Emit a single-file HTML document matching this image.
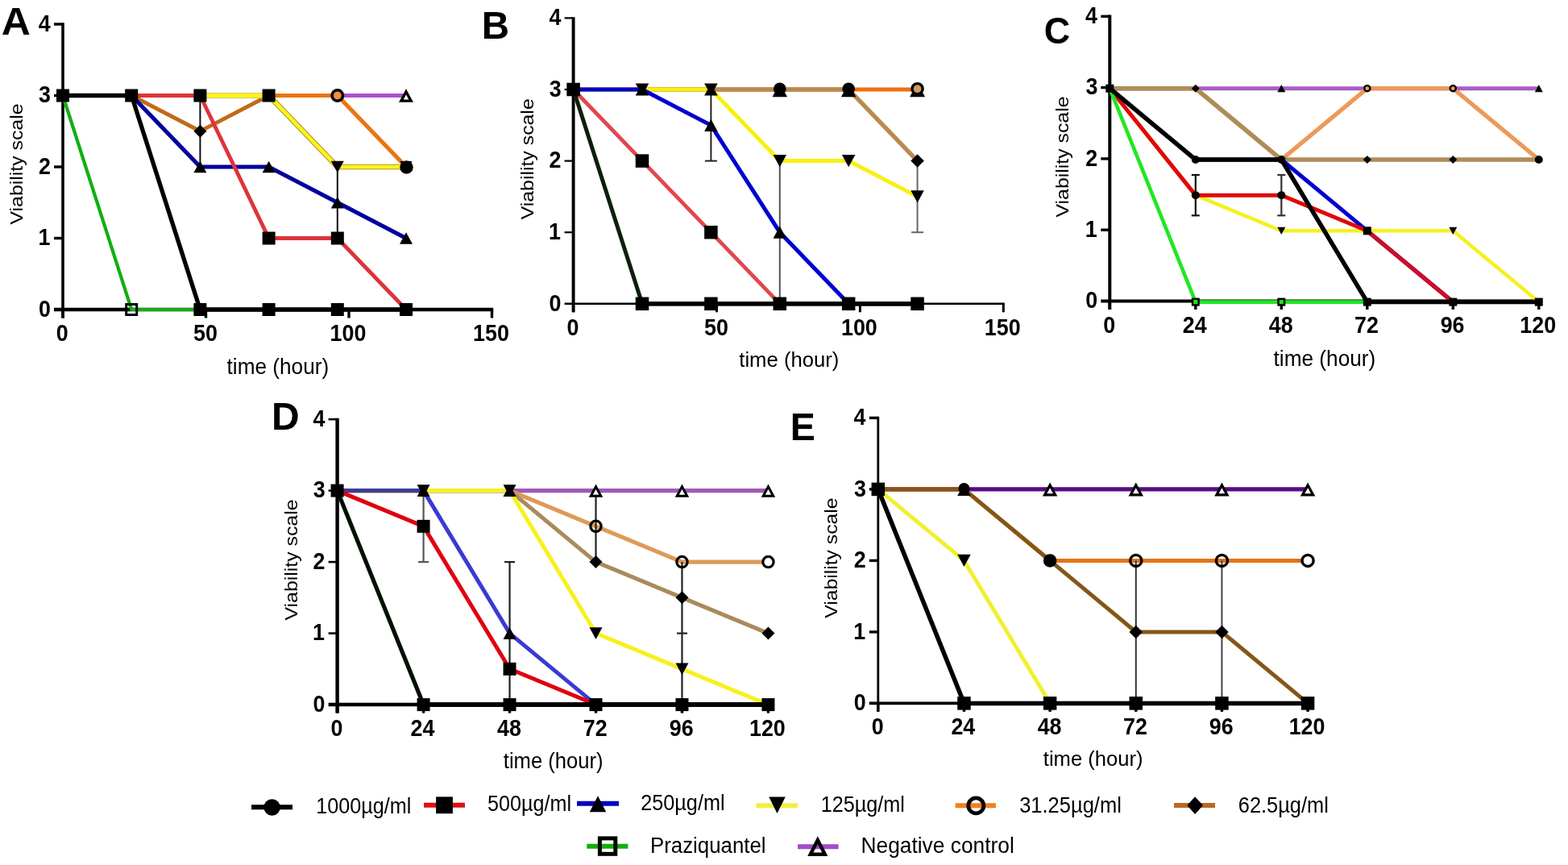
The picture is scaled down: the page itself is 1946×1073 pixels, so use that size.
<!DOCTYPE html>
<html><head><meta charset="utf-8"><title>Viability scale figure</title>
<style>
html,body{margin:0;padding:0;background:#fff;}
svg{display:block;filter:blur(0.5px);}
text{font-family:"Liberation Sans", Arial, sans-serif;fill:#000;}
</style></head>
<body>
<svg width="1946" height="1073" viewBox="0 0 1946 1073">
<rect width="1946" height="1073" fill="#fff"/>
<line x1="78.00" y1="28.30" x2="78.00" y2="394.50" stroke="#000" stroke-width="3.6"/><line x1="67.00" y1="295.50" x2="78.00" y2="295.50" stroke="#000" stroke-width="3.4"/><line x1="67.00" y1="207.00" x2="78.00" y2="207.00" stroke="#000" stroke-width="3.4"/><line x1="67.00" y1="118.50" x2="78.00" y2="118.50" stroke="#000" stroke-width="3.4"/><line x1="67.00" y1="30.00" x2="78.00" y2="30.00" stroke="#000" stroke-width="3.4"/><line x1="67.00" y1="384.00" x2="612.20" y2="384.00" stroke="#000" stroke-width="4.6"/><line x1="78.00" y1="384.00" x2="78.00" y2="394.50" stroke="#000" stroke-width="3.4"/><line x1="255.50" y1="384.00" x2="255.50" y2="394.50" stroke="#000" stroke-width="3.4"/><line x1="433.00" y1="384.00" x2="433.00" y2="394.50" stroke="#000" stroke-width="3.4"/><line x1="610.50" y1="384.00" x2="610.50" y2="394.50" stroke="#000" stroke-width="3.4"/><polyline points="78.00,118.50 163.20,118.50 248.40,118.50 333.60,118.50 418.80,118.50 504.00,118.50" fill="none" stroke="#A850D0" stroke-width="4.8" stroke-linejoin="miter" stroke-linecap="butt"/><polyline points="78.00,118.50 163.20,118.50 248.40,118.50 333.60,118.50 418.80,118.50 504.00,207.00" fill="none" stroke="#E87612" stroke-width="5.2" stroke-linejoin="miter" stroke-linecap="butt"/><polyline points="78.00,118.50 163.20,118.50 248.40,162.75 333.60,118.50" fill="none" stroke="#C06A18" stroke-width="4.8" stroke-linejoin="miter" stroke-linecap="butt"/><polyline points="333.60,118.50 418.80,207.00 504.00,207.00" fill="none" stroke="#9A7A20" stroke-width="6.6" stroke-linejoin="miter" stroke-linecap="butt"/><line x1="248.40" y1="118.50" x2="333.60" y2="118.50" stroke="#D8C860" stroke-width="7"/><polyline points="78.00,118.50 163.20,118.50 248.40,118.50 333.60,118.50 418.80,207.00 504.00,207.00" fill="none" stroke="#FAF41C" stroke-width="4.8" stroke-linejoin="miter" stroke-linecap="butt"/><polyline points="78.00,118.50 163.20,118.50 248.40,207.00 333.60,207.00 418.80,251.25 504.00,295.50" fill="none" stroke="#00009C" stroke-width="5.2" stroke-linejoin="miter" stroke-linecap="butt"/><polyline points="78.00,118.50 163.20,118.50 248.40,118.50 333.60,295.50 418.80,295.50 504.00,384.00" fill="none" stroke="#DC343C" stroke-width="4.8" stroke-linejoin="miter" stroke-linecap="butt"/><polyline points="78.00,118.50 163.20,384.00 248.40,384.00 333.60,384.00 418.80,384.00 504.00,384.00" fill="none" stroke="#10B010" stroke-width="4.2" stroke-linejoin="miter" stroke-linecap="butt"/><polyline points="78.00,118.50 163.20,118.50 248.40,384.00 333.60,384.00 418.80,384.00 504.00,384.00" fill="none" stroke="#000" stroke-width="5.3" stroke-linejoin="miter" stroke-linecap="butt"/><line x1="248.40" y1="118.50" x2="248.40" y2="207.00" stroke="#111" stroke-width="2"/><line x1="418.80" y1="207.00" x2="418.80" y2="295.50" stroke="#111" stroke-width="2"/><rect x="70.00" y="110.50" width="16.00" height="16.00" fill="#000"/><rect x="155.20" y="110.50" width="16.00" height="16.00" fill="#000"/><rect x="240.40" y="110.50" width="16.00" height="16.00" fill="#000"/><rect x="325.60" y="110.50" width="16.00" height="16.00" fill="#000"/><polygon points="248.40,154.75 256.40,162.75 248.40,170.75 240.40,162.75" fill="#000"/><polygon points="248.40,199.64 256.40,214.36 240.40,214.36" fill="#000"/><polygon points="333.60,199.64 341.60,214.36 325.60,214.36" fill="#000"/><polygon points="418.80,214.36 426.80,199.64 410.80,199.64" fill="#000"/><polygon points="418.80,243.89 426.80,258.61 410.80,258.61" fill="#000"/><polygon points="504.00,288.14 512.00,302.86 496.00,302.86" fill="#000"/><rect x="325.60" y="287.50" width="16.00" height="16.00" fill="#000"/><rect x="410.80" y="287.50" width="16.00" height="16.00" fill="#000"/><rect x="240.40" y="376.00" width="16.00" height="16.00" fill="#000"/><rect x="325.60" y="376.00" width="16.00" height="16.00" fill="#000"/><rect x="410.80" y="376.00" width="16.00" height="16.00" fill="#000"/><rect x="496.00" y="376.00" width="16.00" height="16.00" fill="#000"/><polygon points="504.00,213.90 511.50,200.10 496.50,200.10" fill="#000"/><circle cx="504.50" cy="207.50" r="8.25" fill="#000"/><circle cx="418.80" cy="118.50" r="6.70" fill="#F09040" stroke="#000" stroke-width="3.60"/><polygon points="504.00,117.34 507.28,123.38 500.72,123.38" fill="#fff"/><path d="M504.00,110.22 513.00,126.78 495.00,126.78Z M504.00,117.34 507.28,123.38 500.72,123.38Z" fill="#000" fill-rule="evenodd"/><rect x="156.70" y="377.50" width="13.00" height="13.00" fill="none" stroke="#000" stroke-width="3.00"/><text transform="translate(47.93,392.73) scale(0.9100,1)" font-size="29.5" font-weight="bold">0</text><text transform="translate(47.44,304.23) scale(0.9100,1)" font-size="29.5" font-weight="bold">1</text><text transform="translate(48.02,215.88) scale(0.9100,1)" font-size="29.5" font-weight="bold">2</text><text transform="translate(48.11,127.23) scale(0.9100,1)" font-size="29.5" font-weight="bold">3</text><text transform="translate(47.79,38.73) scale(0.9100,1)" font-size="29.5" font-weight="bold">4</text><text transform="translate(69.83,423.00) scale(0.9100,1)" font-size="29.5" font-weight="bold">0</text><text transform="translate(239.99,423.00) scale(0.9100,1)" font-size="29.5" font-weight="bold">50</text><text transform="translate(409.57,423.00) scale(0.9100,1)" font-size="29.5" font-weight="bold">100</text><text transform="translate(587.07,423.00) scale(0.9100,1)" font-size="29.5" font-weight="bold">150</text><line x1="711.60" y1="21.30" x2="711.60" y2="387.30" stroke="#000" stroke-width="3.9"/><line x1="700.60" y1="288.20" x2="711.60" y2="288.20" stroke="#000" stroke-width="2.2"/><line x1="700.60" y1="199.60" x2="711.60" y2="199.60" stroke="#000" stroke-width="2.2"/><line x1="700.60" y1="111.00" x2="711.60" y2="111.00" stroke="#000" stroke-width="2.2"/><line x1="700.60" y1="22.40" x2="711.60" y2="22.40" stroke="#000" stroke-width="2.2"/><line x1="700.60" y1="376.80" x2="1246.80" y2="376.80" stroke="#000" stroke-width="2.4"/><line x1="711.60" y1="376.80" x2="711.60" y2="387.30" stroke="#000" stroke-width="3"/><line x1="889.50" y1="376.80" x2="889.50" y2="387.30" stroke="#000" stroke-width="3"/><line x1="1067.40" y1="376.80" x2="1067.40" y2="387.30" stroke="#000" stroke-width="3"/><line x1="1245.30" y1="376.80" x2="1245.30" y2="387.30" stroke="#000" stroke-width="3"/><polyline points="711.60,111.00 796.99,111.00 882.38,111.00 967.78,111.00 1053.17,111.00 1138.56,111.00" fill="none" stroke="#F07010" stroke-width="4.8" stroke-linejoin="miter" stroke-linecap="butt"/><polyline points="711.60,111.00 796.99,111.00 882.38,111.00 967.78,111.00 1053.17,111.00 1138.56,199.60" fill="none" stroke="#BA8A50" stroke-width="5.4" stroke-linejoin="miter" stroke-linecap="butt"/><polyline points="711.60,111.00 796.99,111.00 882.38,111.00 967.78,199.60 1053.17,199.60 1138.56,243.90" fill="none" stroke="#F8F010" stroke-width="5" stroke-linejoin="miter" stroke-linecap="butt"/><polyline points="711.60,111.00 796.99,111.00 882.38,155.30 967.78,288.20 1053.17,376.80 1138.56,376.80" fill="none" stroke="#0000D0" stroke-width="5" stroke-linejoin="miter" stroke-linecap="butt"/><polyline points="711.60,111.00 796.99,199.60 882.38,288.20 967.78,376.80 1053.17,376.80 1138.56,376.80" fill="none" stroke="#E04850" stroke-width="4.8" stroke-linejoin="miter" stroke-linecap="butt"/><polyline points="711.60,111.00 796.99,376.80 882.38,376.80 967.78,376.80 1053.17,376.80 1138.56,376.80" fill="none" stroke="#0A200A" stroke-width="5" stroke-linejoin="miter" stroke-linecap="butt"/><line x1="796.99" y1="376.80" x2="1138.56" y2="376.80" stroke="#000" stroke-width="5.3"/><line x1="882.38" y1="111.00" x2="882.38" y2="199.60" stroke="#222" stroke-width="2"/><line x1="874.88" y1="199.60" x2="889.88" y2="199.60" stroke="#222" stroke-width="2"/><line x1="967.78" y1="199.60" x2="967.78" y2="376.80" stroke="#555" stroke-width="2"/><line x1="1138.56" y1="199.60" x2="1138.56" y2="288.20" stroke="#666" stroke-width="2"/><line x1="1131.06" y1="288.20" x2="1146.06" y2="288.20" stroke="#666" stroke-width="2"/><rect x="703.35" y="102.75" width="16.50" height="16.50" fill="#000"/><polygon points="796.99,103.41 805.24,118.59 788.74,118.59" fill="#000"/><polygon points="796.99,118.59 805.24,103.41 788.74,103.41" fill="#000"/><polygon points="882.38,103.41 890.63,118.59 874.13,118.59" fill="#000"/><polygon points="882.38,118.59 890.63,103.41 874.13,103.41" fill="#000"/><rect x="788.74" y="191.35" width="16.50" height="16.50" fill="#000"/><polygon points="882.38,147.71 890.63,162.89 874.13,162.89" fill="#000"/><rect x="874.13" y="279.95" width="16.50" height="16.50" fill="#000"/><polygon points="967.78,207.19 976.03,192.01 959.53,192.01" fill="#000"/><polygon points="967.78,280.61 976.03,295.79 959.53,295.79" fill="#000"/><polygon points="1053.17,207.19 1061.42,192.01 1044.92,192.01" fill="#000"/><polygon points="1138.56,191.35 1146.81,199.60 1138.56,207.85 1130.31,199.60" fill="#000"/><polygon points="1138.56,251.49 1146.81,236.31 1130.31,236.31" fill="#000"/><rect x="788.74" y="368.55" width="16.50" height="16.50" fill="#000"/><rect x="874.13" y="368.55" width="16.50" height="16.50" fill="#000"/><rect x="959.53" y="368.55" width="16.50" height="16.50" fill="#000"/><rect x="1044.92" y="368.55" width="16.50" height="16.50" fill="#000"/><rect x="1130.31" y="368.55" width="16.50" height="16.50" fill="#000"/><circle cx="967.78" cy="110.30" r="7.86" fill="#000"/><polygon points="967.78,103.29 977.03,120.31 958.53,120.31" fill="#000"/><circle cx="1053.17" cy="110.30" r="7.86" fill="#000"/><polygon points="1053.17,103.29 1062.42,120.31 1043.92,120.31" fill="#000"/><polygon points="1138.56,109.56 1142.68,117.14 1134.44,117.14" fill="#fff"/><path d="M1138.56,102.86 1148.06,120.34 1129.06,120.34Z M1138.56,109.56 1142.68,117.14 1134.44,117.14Z" fill="#000" fill-rule="evenodd"/><circle cx="1138.56" cy="110.20" r="6.55" fill="#D49A62" stroke="#000" stroke-width="3.40"/><text transform="translate(681.53,385.53) scale(0.9100,1)" font-size="29.5" font-weight="bold">0</text><text transform="translate(681.04,296.93) scale(0.9100,1)" font-size="29.5" font-weight="bold">1</text><text transform="translate(681.62,208.48) scale(0.9100,1)" font-size="29.5" font-weight="bold">2</text><text transform="translate(681.71,119.73) scale(0.9100,1)" font-size="29.5" font-weight="bold">3</text><text transform="translate(681.39,31.13) scale(0.9100,1)" font-size="29.5" font-weight="bold">4</text><text transform="translate(703.43,415.80) scale(0.9100,1)" font-size="29.5" font-weight="bold">0</text><text transform="translate(873.99,415.80) scale(0.9100,1)" font-size="29.5" font-weight="bold">50</text><text transform="translate(1043.97,415.80) scale(0.9100,1)" font-size="29.5" font-weight="bold">100</text><text transform="translate(1221.87,415.80) scale(0.9100,1)" font-size="29.5" font-weight="bold">150</text><line x1="1377.30" y1="18.60" x2="1377.30" y2="384.00" stroke="#000" stroke-width="4"/><line x1="1366.30" y1="285.20" x2="1377.30" y2="285.20" stroke="#000" stroke-width="3.4"/><line x1="1366.30" y1="196.90" x2="1377.30" y2="196.90" stroke="#000" stroke-width="3.4"/><line x1="1366.30" y1="108.60" x2="1377.30" y2="108.60" stroke="#000" stroke-width="3.4"/><line x1="1366.30" y1="20.30" x2="1377.30" y2="20.30" stroke="#000" stroke-width="3.4"/><line x1="1366.30" y1="373.50" x2="1911.50" y2="373.50" stroke="#000" stroke-width="4"/><line x1="1377.30" y1="373.50" x2="1377.30" y2="384.00" stroke="#000" stroke-width="3.4"/><line x1="1483.80" y1="373.50" x2="1483.80" y2="384.00" stroke="#000" stroke-width="3.4"/><line x1="1590.30" y1="373.50" x2="1590.30" y2="384.00" stroke="#000" stroke-width="3.4"/><line x1="1696.80" y1="373.50" x2="1696.80" y2="384.00" stroke="#000" stroke-width="3.4"/><line x1="1803.30" y1="373.50" x2="1803.30" y2="384.00" stroke="#000" stroke-width="3.4"/><line x1="1909.80" y1="373.50" x2="1909.80" y2="384.00" stroke="#000" stroke-width="3.4"/><polyline points="1377.30,109.70 1483.80,109.70 1590.30,109.70 1696.80,109.70 1803.30,109.70 1909.80,109.70" fill="none" stroke="#A85CC4" stroke-width="5" stroke-linejoin="miter" stroke-linecap="butt"/><polyline points="1377.30,109.70 1483.80,109.70 1590.30,198.00 1696.80,109.70 1803.30,109.70 1909.80,198.00" fill="none" stroke="#EC9A5A" stroke-width="5.3" stroke-linejoin="miter" stroke-linecap="butt"/><polyline points="1377.30,109.70 1483.80,109.70 1590.30,198.00 1696.80,198.00 1803.30,198.00 1909.80,198.00" fill="none" stroke="#AE8C5A" stroke-width="5.5" stroke-linejoin="miter" stroke-linecap="butt"/><polyline points="1377.30,109.70 1483.80,242.15 1590.30,286.30 1696.80,286.30 1803.30,286.30 1909.80,374.60" fill="none" stroke="#F6F020" stroke-width="4.5" stroke-linejoin="miter" stroke-linecap="butt"/><polyline points="1377.30,109.70 1483.80,198.00 1590.30,198.00 1696.80,286.30 1803.30,374.60 1909.80,374.60" fill="none" stroke="#0000D0" stroke-width="5" stroke-linejoin="miter" stroke-linecap="butt"/><polyline points="1377.30,109.70 1483.80,242.15 1590.30,242.15 1696.80,286.30 1803.30,374.60 1909.80,374.60" fill="none" stroke="#E00808" stroke-width="5" stroke-linejoin="miter" stroke-linecap="butt"/><line x1="1696.80" y1="286.30" x2="1803.30" y2="374.60" stroke="#C8102A" stroke-width="5"/><polyline points="1377.30,109.70 1483.80,374.60 1590.30,374.60 1696.80,374.60" fill="none" stroke="#22E622" stroke-width="4.6" stroke-linejoin="miter" stroke-linecap="butt"/><polyline points="1377.30,109.70 1483.80,198.00 1590.30,198.00 1696.80,374.60 1803.30,374.60 1909.80,374.60" fill="none" stroke="#000" stroke-width="5.5" stroke-linejoin="miter" stroke-linecap="butt"/><line x1="1483.80" y1="216.98" x2="1483.80" y2="267.32" stroke="#111" stroke-width="2.2"/><line x1="1478.80" y1="216.98" x2="1488.80" y2="216.98" stroke="#111" stroke-width="2.2"/><line x1="1478.80" y1="267.32" x2="1488.80" y2="267.32" stroke="#111" stroke-width="2.2"/><line x1="1590.30" y1="216.98" x2="1590.30" y2="267.32" stroke="#333" stroke-width="2.2"/><line x1="1585.30" y1="216.98" x2="1595.30" y2="216.98" stroke="#333" stroke-width="2.2"/><line x1="1585.30" y1="267.32" x2="1595.30" y2="267.32" stroke="#333" stroke-width="2.2"/><rect x="1372.30" y="104.70" width="10.00" height="10.00" fill="#000"/><polygon points="1483.80,104.70 1488.80,109.70 1483.80,114.70 1478.80,109.70" fill="#000"/><polygon points="1590.30,105.10 1595.30,114.30 1585.30,114.30" fill="#000"/><polygon points="1909.80,105.10 1914.80,114.30 1904.80,114.30" fill="#000"/><circle cx="1483.80" cy="198.00" r="5.00" fill="#000"/><circle cx="1590.30" cy="198.00" r="5.00" fill="#000"/><polygon points="1696.80,193.00 1701.80,198.00 1696.80,203.00 1691.80,198.00" fill="#000"/><polygon points="1803.30,193.00 1808.30,198.00 1803.30,203.00 1798.30,198.00" fill="#000"/><circle cx="1909.80" cy="198.00" r="5.00" fill="#000"/><circle cx="1483.80" cy="242.15" r="5.00" fill="#000"/><circle cx="1590.30" cy="242.15" r="5.00" fill="#000"/><polygon points="1590.30,290.90 1595.30,281.70 1585.30,281.70" fill="#000"/><rect x="1691.80" y="281.30" width="10.00" height="10.00" fill="#000"/><polygon points="1803.30,290.90 1808.30,281.70 1798.30,281.70" fill="#000"/><rect x="1691.80" y="369.60" width="10.00" height="10.00" fill="#000"/><rect x="1798.30" y="369.60" width="10.00" height="10.00" fill="#000"/><rect x="1904.80" y="369.60" width="10.00" height="10.00" fill="#000"/><circle cx="1696.80" cy="109.70" r="3.55" fill="#F0A060" stroke="#000" stroke-width="2.40"/><circle cx="1803.30" cy="109.70" r="3.55" fill="#F0A060" stroke="#000" stroke-width="2.40"/><rect x="1480.00" y="370.80" width="7.60" height="7.60" fill="#20E020" stroke="#000" stroke-width="2.40"/><rect x="1586.50" y="370.80" width="7.60" height="7.60" fill="#20E020" stroke="#000" stroke-width="2.40"/><text transform="translate(1347.23,382.23) scale(0.9100,1)" font-size="29.5" font-weight="bold">0</text><text transform="translate(1346.74,293.93) scale(0.9100,1)" font-size="29.5" font-weight="bold">1</text><text transform="translate(1347.32,205.78) scale(0.9100,1)" font-size="29.5" font-weight="bold">2</text><text transform="translate(1347.41,117.33) scale(0.9100,1)" font-size="29.5" font-weight="bold">3</text><text transform="translate(1347.09,29.03) scale(0.9100,1)" font-size="29.5" font-weight="bold">4</text><text transform="translate(1369.13,412.50) scale(0.9100,1)" font-size="29.5" font-weight="bold">0</text><text transform="translate(1467.80,412.50) scale(0.9100,1)" font-size="29.5" font-weight="bold">24</text><text transform="translate(1574.84,412.50) scale(0.9100,1)" font-size="29.5" font-weight="bold">48</text><text transform="translate(1681.11,412.50) scale(0.9100,1)" font-size="29.5" font-weight="bold">72</text><text transform="translate(1787.70,412.50) scale(0.9100,1)" font-size="29.5" font-weight="bold">96</text><text transform="translate(1886.37,412.50) scale(0.9100,1)" font-size="29.5" font-weight="bold">120</text><line x1="418.60" y1="518.80" x2="418.60" y2="884.60" stroke="#000" stroke-width="4.4"/><line x1="407.60" y1="785.60" x2="418.60" y2="785.60" stroke="#000" stroke-width="2.6"/><line x1="407.60" y1="697.10" x2="418.60" y2="697.10" stroke="#000" stroke-width="2.6"/><line x1="407.60" y1="608.60" x2="418.60" y2="608.60" stroke="#000" stroke-width="2.6"/><line x1="407.60" y1="520.10" x2="418.60" y2="520.10" stroke="#000" stroke-width="2.6"/><line x1="407.60" y1="874.10" x2="955.14" y2="874.10" stroke="#000" stroke-width="4.5"/><line x1="418.60" y1="874.10" x2="418.60" y2="884.60" stroke="#000" stroke-width="3.4"/><line x1="525.57" y1="874.10" x2="525.57" y2="884.60" stroke="#000" stroke-width="3.4"/><line x1="632.54" y1="874.10" x2="632.54" y2="884.60" stroke="#000" stroke-width="3.4"/><line x1="739.50" y1="874.10" x2="739.50" y2="884.60" stroke="#000" stroke-width="3.4"/><line x1="846.47" y1="874.10" x2="846.47" y2="884.60" stroke="#000" stroke-width="3.4"/><line x1="953.44" y1="874.10" x2="953.44" y2="884.60" stroke="#000" stroke-width="3.4"/><polyline points="418.60,608.60 525.57,608.60 632.54,608.60 739.50,608.60 846.47,608.60 953.44,608.60" fill="none" stroke="#A058B8" stroke-width="5.2" stroke-linejoin="miter" stroke-linecap="butt"/><polyline points="418.60,608.60 525.57,608.60 632.54,608.60 739.50,652.85 846.47,697.10 953.44,697.10" fill="none" stroke="#DE9A58" stroke-width="5.1" stroke-linejoin="miter" stroke-linecap="butt"/><polyline points="418.60,608.60 525.57,608.60 632.54,608.60 739.50,697.10 846.47,741.35 953.44,785.60" fill="none" stroke="#AA8A5C" stroke-width="5.1" stroke-linejoin="miter" stroke-linecap="butt"/><polyline points="418.60,608.60 525.57,608.60 632.54,608.60 739.50,785.60 846.47,829.85 953.44,874.10" fill="none" stroke="#F8F020" stroke-width="5" stroke-linejoin="miter" stroke-linecap="butt"/><polyline points="418.60,608.60 525.57,608.60 632.54,785.60 739.50,874.10 846.47,874.10 953.44,874.10" fill="none" stroke="#3A3AD4" stroke-width="5" stroke-linejoin="miter" stroke-linecap="butt"/><line x1="418.60" y1="608.60" x2="525.57" y2="608.60" stroke="#3C3C98" stroke-width="5"/><polyline points="418.60,608.60 525.57,652.85 632.54,829.85 739.50,874.10 846.47,874.10 953.44,874.10" fill="none" stroke="#E00010" stroke-width="5" stroke-linejoin="miter" stroke-linecap="butt"/><polyline points="418.60,608.60 525.57,874.10 632.54,874.10 739.50,874.10 846.47,874.10 953.44,874.10" fill="none" stroke="#001000" stroke-width="5.2" stroke-linejoin="miter" stroke-linecap="butt"/><line x1="525.57" y1="874.10" x2="953.44" y2="874.10" stroke="#000" stroke-width="5.5"/><line x1="525.57" y1="608.60" x2="525.57" y2="697.10" stroke="#555" stroke-width="2.2"/><line x1="519.07" y1="697.10" x2="532.07" y2="697.10" stroke="#555" stroke-width="2.2"/><line x1="632.54" y1="697.10" x2="632.54" y2="874.10" stroke="#222" stroke-width="2.2"/><line x1="626.04" y1="697.10" x2="639.04" y2="697.10" stroke="#222" stroke-width="2.2"/><line x1="739.50" y1="608.60" x2="739.50" y2="697.10" stroke="#222" stroke-width="2.2"/><line x1="846.47" y1="697.10" x2="846.47" y2="874.10" stroke="#222" stroke-width="2.2"/><line x1="839.97" y1="785.60" x2="852.97" y2="785.60" stroke="#222" stroke-width="2.2"/><rect x="410.60" y="600.60" width="16.00" height="16.00" fill="#000"/><polygon points="525.57,601.24 533.57,615.96 517.57,615.96" fill="#000"/><polygon points="525.57,615.96 533.57,601.24 517.57,601.24" fill="#000"/><polygon points="632.54,601.24 640.54,615.96 624.54,615.96" fill="#000"/><polygon points="632.54,615.96 640.54,601.24 624.54,601.24" fill="#000"/><rect x="517.57" y="644.85" width="16.00" height="16.00" fill="#000"/><polygon points="739.50,689.10 747.50,697.10 739.50,705.10 731.50,697.10" fill="#000"/><polygon points="846.47,733.35 854.47,741.35 846.47,749.35 838.47,741.35" fill="#000"/><polygon points="953.44,777.60 961.44,785.60 953.44,793.60 945.44,785.60" fill="#000"/><polygon points="632.54,778.24 640.54,792.96 624.54,792.96" fill="#000"/><polygon points="739.50,792.96 747.50,778.24 731.50,778.24" fill="#000"/><polygon points="846.47,837.21 854.47,822.49 838.47,822.49" fill="#000"/><rect x="624.54" y="821.85" width="16.00" height="16.00" fill="#000"/><rect x="517.57" y="866.10" width="16.00" height="16.00" fill="#000"/><rect x="624.54" y="866.10" width="16.00" height="16.00" fill="#000"/><rect x="731.50" y="866.10" width="16.00" height="16.00" fill="#000"/><rect x="838.47" y="866.10" width="16.00" height="16.00" fill="#000"/><rect x="945.44" y="866.10" width="16.00" height="16.00" fill="#000"/><polygon points="739.50,606.83 743.21,613.65 735.80,613.65" fill="#fff"/><path d="M739.50,600.55 748.25,616.65 730.75,616.65Z M739.50,606.83 743.21,613.65 735.80,613.65Z" fill="#000" fill-rule="evenodd"/><polygon points="846.47,606.83 850.18,613.65 842.77,613.65" fill="#fff"/><path d="M846.47,600.55 855.22,616.65 837.72,616.65Z M846.47,606.83 850.18,613.65 842.77,613.65Z" fill="#000" fill-rule="evenodd"/><polygon points="953.44,606.83 957.15,613.65 949.73,613.65" fill="#fff"/><path d="M953.44,600.55 962.19,616.65 944.69,616.65Z M953.44,606.83 957.15,613.65 949.73,613.65Z" fill="#000" fill-rule="evenodd"/><circle cx="739.50" cy="652.85" r="6.65" fill="none" stroke="#000" stroke-width="3.20"/><circle cx="846.47" cy="697.10" r="6.65" fill="none" stroke="#000" stroke-width="3.20"/><circle cx="953.44" cy="697.10" r="6.65" fill="#fff" stroke="#000" stroke-width="3.20"/><text transform="translate(388.53,882.83) scale(0.9100,1)" font-size="29.5" font-weight="bold">0</text><text transform="translate(388.04,794.33) scale(0.9100,1)" font-size="29.5" font-weight="bold">1</text><text transform="translate(388.62,705.98) scale(0.9100,1)" font-size="29.5" font-weight="bold">2</text><text transform="translate(388.71,617.33) scale(0.9100,1)" font-size="29.5" font-weight="bold">3</text><text transform="translate(388.39,528.83) scale(0.9100,1)" font-size="29.5" font-weight="bold">4</text><text transform="translate(410.43,913.10) scale(0.9100,1)" font-size="29.5" font-weight="bold">0</text><text transform="translate(509.57,913.10) scale(0.9100,1)" font-size="29.5" font-weight="bold">24</text><text transform="translate(617.07,913.10) scale(0.9100,1)" font-size="29.5" font-weight="bold">48</text><text transform="translate(723.82,913.10) scale(0.9100,1)" font-size="29.5" font-weight="bold">72</text><text transform="translate(830.87,913.10) scale(0.9100,1)" font-size="29.5" font-weight="bold">96</text><text transform="translate(930.01,913.10) scale(0.9100,1)" font-size="29.5" font-weight="bold">120</text><line x1="1089.80" y1="516.70" x2="1089.80" y2="882.90" stroke="#000" stroke-width="2.8"/><line x1="1078.80" y1="783.90" x2="1089.80" y2="783.90" stroke="#000" stroke-width="3.4"/><line x1="1078.80" y1="695.40" x2="1089.80" y2="695.40" stroke="#000" stroke-width="3.4"/><line x1="1078.80" y1="606.90" x2="1089.80" y2="606.90" stroke="#000" stroke-width="3.4"/><line x1="1078.80" y1="518.40" x2="1089.80" y2="518.40" stroke="#000" stroke-width="3.4"/><line x1="1078.80" y1="872.40" x2="1624.78" y2="872.40" stroke="#000" stroke-width="3.6"/><line x1="1089.80" y1="872.40" x2="1089.80" y2="882.90" stroke="#000" stroke-width="3.4"/><line x1="1196.46" y1="872.40" x2="1196.46" y2="882.90" stroke="#000" stroke-width="3.4"/><line x1="1303.11" y1="872.40" x2="1303.11" y2="882.90" stroke="#000" stroke-width="3.4"/><line x1="1409.77" y1="872.40" x2="1409.77" y2="882.90" stroke="#000" stroke-width="3.4"/><line x1="1516.42" y1="872.40" x2="1516.42" y2="882.90" stroke="#000" stroke-width="3.4"/><line x1="1623.08" y1="872.40" x2="1623.08" y2="882.90" stroke="#000" stroke-width="3.4"/><polyline points="1089.80,606.90 1196.46,606.90 1303.11,606.90 1409.77,606.90 1516.42,606.90 1623.08,606.90" fill="none" stroke="#580C84" stroke-width="5.4" stroke-linejoin="miter" stroke-linecap="butt"/><polyline points="1089.80,606.90 1196.46,606.90 1303.11,695.40 1409.77,695.40 1516.42,695.40 1623.08,695.40" fill="none" stroke="#E27414" stroke-width="5" stroke-linejoin="miter" stroke-linecap="butt"/><polyline points="1089.80,606.90 1196.46,606.90 1303.11,695.40 1409.77,783.90 1516.42,783.90 1623.08,872.40" fill="none" stroke="#845618" stroke-width="5" stroke-linejoin="miter" stroke-linecap="butt"/><polyline points="1089.80,606.90 1196.46,695.40 1303.11,872.40 1409.77,872.40 1516.42,872.40 1623.08,872.40" fill="none" stroke="#F0F030" stroke-width="5" stroke-linejoin="miter" stroke-linecap="butt"/><polyline points="1089.80,606.90 1196.46,872.40 1303.11,872.40 1409.77,872.40 1516.42,872.40 1623.08,872.40" fill="none" stroke="#000" stroke-width="5.5" stroke-linejoin="miter" stroke-linecap="butt"/><line x1="1409.77" y1="695.40" x2="1409.77" y2="872.40" stroke="#333" stroke-width="2"/><line x1="1516.42" y1="695.40" x2="1516.42" y2="872.40" stroke="#444" stroke-width="2"/><rect x="1081.55" y="598.65" width="16.50" height="16.50" fill="#000"/><circle cx="1196.46" cy="605.90" r="7.01" fill="#000"/><polygon points="1196.46,599.81 1204.71,614.99 1188.21,614.99" fill="#000"/><polygon points="1196.46,702.99 1204.71,687.81 1188.21,687.81" fill="#000"/><circle cx="1303.11" cy="695.40" r="8.25" fill="#000"/><polygon points="1409.77,775.65 1418.02,783.90 1409.77,792.15 1401.52,783.90" fill="#000"/><polygon points="1516.42,775.65 1524.67,783.90 1516.42,792.15 1508.17,783.90" fill="#000"/><rect x="1188.21" y="864.15" width="16.50" height="16.50" fill="#000"/><rect x="1294.86" y="864.15" width="16.50" height="16.50" fill="#000"/><rect x="1401.52" y="864.15" width="16.50" height="16.50" fill="#000"/><rect x="1508.17" y="864.15" width="16.50" height="16.50" fill="#000"/><rect x="1614.83" y="864.15" width="16.50" height="16.50" fill="#000"/><polygon points="1303.11,605.09 1306.98,612.21 1299.24,612.21" fill="#fff"/><path d="M1303.11,598.39 1312.36,615.41 1293.86,615.41Z M1303.11,605.09 1306.98,612.21 1299.24,612.21Z" fill="#000" fill-rule="evenodd"/><polygon points="1409.77,605.09 1413.64,612.21 1405.90,612.21" fill="#fff"/><path d="M1409.77,598.39 1419.02,615.41 1400.52,615.41Z M1409.77,605.09 1413.64,612.21 1405.90,612.21Z" fill="#000" fill-rule="evenodd"/><polygon points="1516.42,605.09 1520.29,612.21 1512.56,612.21" fill="#fff"/><path d="M1516.42,598.39 1525.67,615.41 1507.17,615.41Z M1516.42,605.09 1520.29,612.21 1512.56,612.21Z" fill="#000" fill-rule="evenodd"/><polygon points="1623.08,605.09 1626.95,612.21 1619.21,612.21" fill="#fff"/><path d="M1623.08,598.39 1632.33,615.41 1613.83,615.41Z M1623.08,605.09 1626.95,612.21 1619.21,612.21Z" fill="#000" fill-rule="evenodd"/><circle cx="1409.77" cy="695.40" r="7.05" fill="none" stroke="#000" stroke-width="3.40"/><circle cx="1516.42" cy="695.40" r="7.05" fill="none" stroke="#000" stroke-width="3.40"/><circle cx="1623.08" cy="695.40" r="7.05" fill="#fff" stroke="#000" stroke-width="3.40"/><text transform="translate(1059.73,881.13) scale(0.9100,1)" font-size="29.5" font-weight="bold">0</text><text transform="translate(1059.24,792.63) scale(0.9100,1)" font-size="29.5" font-weight="bold">1</text><text transform="translate(1059.82,704.28) scale(0.9100,1)" font-size="29.5" font-weight="bold">2</text><text transform="translate(1059.91,615.63) scale(0.9100,1)" font-size="29.5" font-weight="bold">3</text><text transform="translate(1059.59,527.13) scale(0.9100,1)" font-size="29.5" font-weight="bold">4</text><text transform="translate(1081.63,911.40) scale(0.9100,1)" font-size="29.5" font-weight="bold">0</text><text transform="translate(1180.45,911.40) scale(0.9100,1)" font-size="29.5" font-weight="bold">24</text><text transform="translate(1287.65,911.40) scale(0.9100,1)" font-size="29.5" font-weight="bold">48</text><text transform="translate(1394.08,911.40) scale(0.9100,1)" font-size="29.5" font-weight="bold">72</text><text transform="translate(1500.83,911.40) scale(0.9100,1)" font-size="29.5" font-weight="bold">96</text><text transform="translate(1599.65,911.40) scale(0.9100,1)" font-size="29.5" font-weight="bold">120</text><text transform="translate(1.67,43.00) scale(1.0532,1)" font-size="47.48" font-weight="bold">A</text><text transform="translate(597.83,48.00) scale(0.9892,1)" font-size="48.06" font-weight="bold">B</text><text transform="translate(1295.71,54.04) scale(0.9662,1)" font-size="46.42" font-weight="bold">C</text><text transform="translate(337.00,533.00) scale(0.9914,1)" font-size="48.35" font-weight="bold">D</text><text transform="translate(980.79,546.10) scale(0.9611,1)" font-size="48.5" font-weight="bold">E</text><text transform="translate(281.56,463.50) scale(0.9354,1)" font-size="28" font-weight="normal">time (hour)</text><text transform="translate(917.27,455.40) scale(0.9693,1)" font-size="26.5" font-weight="normal">time (hour)</text><text transform="translate(1580.56,454.10) scale(0.9362,1)" font-size="28" font-weight="normal">time (hour)</text><text transform="translate(624.77,952.80) scale(0.9483,1)" font-size="27" font-weight="normal">time (hour)</text><text transform="translate(1294.77,950.40) scale(0.9662,1)" font-size="26.5" font-weight="normal">time (hour)</text><text transform="translate(27.90,278.57) rotate(-90) scale(1,0.92)" font-size="24.86">Viability scale</text><text transform="translate(661.50,272.37) rotate(-90) scale(1,0.92)" font-size="24.86">Viability scale</text><text transform="translate(1325.50,269.57) rotate(-90) scale(1,0.92)" font-size="24.86">Viability scale</text><text transform="translate(368.70,769.57) rotate(-90) scale(1,0.92)" font-size="24.86">Viability scale</text><text transform="translate(1039.20,766.76) rotate(-90) scale(1,0.92)" font-size="24.71">Viability scale</text><line x1="312" y1="1001.3" x2="363" y2="1001.3" stroke="#000" stroke-width="6"/><circle cx="337.60" cy="1001.60" r="10.25" fill="#000"/><text transform="translate(392.37,1009.00) scale(0.8994,1)" font-size="28" font-weight="normal">1000µg/ml</text><line x1="526" y1="998.8" x2="577" y2="998.8" stroke="#E01010" stroke-width="6"/><rect x="541.10" y="988.40" width="20.80" height="20.80" fill="#000"/><text transform="translate(605.09,1006.40) scale(0.8985,1)" font-size="28" font-weight="normal">500µg/ml</text><line x1="716" y1="996.8" x2="768" y2="996.8" stroke="#0000C0" stroke-width="6"/><polygon points="742.00,987.25 752.25,1007.34 731.75,1007.34" fill="#000"/><text transform="translate(795.24,1004.70) scale(0.9016,1)" font-size="28" font-weight="normal">250µg/ml</text><line x1="938.5" y1="999.3" x2="990" y2="999.3" stroke="#F0F040" stroke-width="6"/><polygon points="964.50,1009.05 974.75,988.55 954.25,988.55" fill="#000"/><text transform="translate(1018.67,1007.10) scale(0.8996,1)" font-size="28" font-weight="normal">125µg/ml</text><line x1="1185.6" y1="999.2" x2="1235.9" y2="999.2" stroke="#F08020" stroke-width="6"/><circle cx="1211.30" cy="999.40" r="9.50" fill="none" stroke="#000" stroke-width="4.80"/><text transform="translate(1265.18,1007.80) scale(0.9113,1)" font-size="28" font-weight="normal">31.25µg/ml</text><line x1="1457" y1="999.1" x2="1508" y2="999.1" stroke="#B86A22" stroke-width="6"/><polygon points="1483.1,988.2 1493.0,999.0 1483.1,1009.9 1473.3,999.0" fill="#000"/><text transform="translate(1536.83,1007.80) scale(0.9068,1)" font-size="28" font-weight="normal">62.5µg/ml</text><line x1="728.3" y1="1049.8" x2="779.4" y2="1049.8" stroke="#10B010" stroke-width="6"/><rect x="744.40" y="1039.90" width="19.40" height="19.40" fill="none" stroke="#000" stroke-width="5.00"/><text transform="translate(806.95,1058.20) scale(0.9229,1)" font-size="28" font-weight="normal">Praziquantel</text><line x1="990" y1="1050.2" x2="1040.6" y2="1050.2" stroke="#A24CC6" stroke-width="6"/><path d="M1014.80,1037.25 1027.40,1061.95 1002.20,1061.95Z M1014.80,1046.93 1020.22,1057.55 1009.38,1057.55Z" fill="#000" fill-rule="evenodd"/><text transform="translate(1068.50,1057.70) scale(0.9407,1)" font-size="28" font-weight="normal">Negative control</text>
</svg>
</body></html>
